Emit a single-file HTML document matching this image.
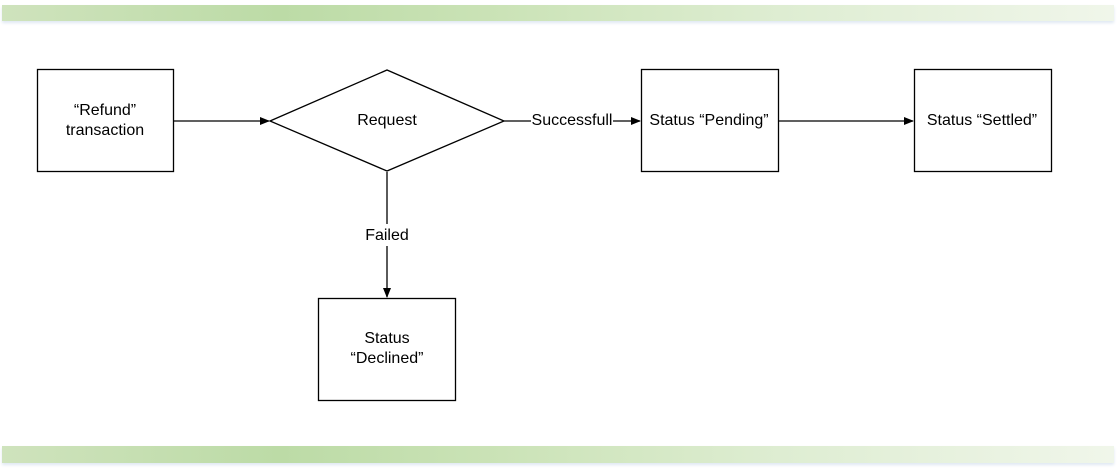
<!DOCTYPE html>
<html><head><style>
body{margin:0;width:1117px;height:470px;background:#fff;overflow:hidden;position:relative;font-family:"Liberation Sans",Arial,sans-serif}
.bar{position:absolute;left:2px;width:1112px;background:linear-gradient(90deg,#cfe3bd 0%,#bcdba6 25%,#cbe3b7 45%,#deedd2 70%,#f0f6ea 100%);box-shadow:0 2px 3px #dfe8f2}
</style></head><body>
<div class="bar" style="top:5px;height:16px"></div>
<div class="bar" style="top:446px;height:17px"></div>
<svg width="1117" height="470" style="position:absolute;left:0;top:0" font-family="Liberation Sans, Arial, sans-serif" font-size="16" fill="#000">
<defs><marker id="a" markerWidth="10" markerHeight="8" refX="9" refY="4" orient="auto" markerUnits="userSpaceOnUse"><path d="M0,0L10,4L0,8z" fill="#000"/></marker></defs>
<g fill="none" stroke="#000" stroke-width="1.3">
<rect x="37.5" y="69.5" width="136" height="102"/>
<polygon points="270,121 387,70 504,121 387,171"/>
<rect x="641.5" y="69.5" width="137" height="102"/>
<rect x="914.5" y="69.5" width="137" height="102"/>
<rect x="318.5" y="298.5" width="137" height="102"/>
<line x1="174" y1="121" x2="269" y2="121" marker-end="url(#a)"/>
<line x1="504" y1="121" x2="531" y2="121"/>
<line x1="613" y1="121" x2="640" y2="121" marker-end="url(#a)"/>
<line x1="779" y1="121" x2="913" y2="121" marker-end="url(#a)"/>
<line x1="387" y1="172" x2="387" y2="224"/>
<line x1="387" y1="246" x2="387" y2="297" marker-end="url(#a)"/>
</g>
<g text-anchor="middle" stroke="none">
<text x="105" y="115">“Refund”</text>
<text x="105" y="135">transaction</text>
<text x="387" y="125">Request</text>
<text x="572" y="125">Successfull</text>
<text x="709" y="125">Status “Pending”</text>
<text x="982" y="125">Status “Settled”</text>
<text x="387" y="240">Failed</text>
<text x="387" y="343">Status</text>
<text x="387" y="363">“Declined”</text>
</g>
</svg>
</body></html>
